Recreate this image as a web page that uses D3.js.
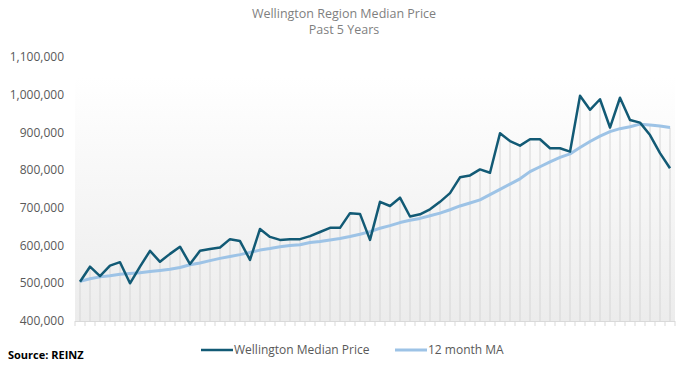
<!DOCTYPE html>
<html>
<head>
<meta charset="utf-8">
<script src="https://cdn.jsdelivr.net/npm/d3@7"></script>
<style>
  body { margin: 0; background: #fff; }
  svg { display: block; font-family: "Open Sans", "Noto Sans", sans-serif; }
</style>
</head>
<body>
<div id="chart"></div>
<script>
// Monthly median prices, Wellington region, past 5 years (60 months)
const medianPrice = [
  504000, 544000, 519000, 547000, 556000, 500000, 544000, 586000, 557000, 578000,
  597000, 551000, 586000, 591000, 595000, 617000, 612000, 562000, 644000, 623000,
  615000, 617000, 617000, 625000, 636000, 647000, 647000, 686000, 684000, 615000,
  716000, 705000, 727000, 677000, 683000, 696000, 716000, 739000, 781000, 786000,
  802000, 793000, 898000, 877000, 865000, 882000, 882000, 858000, 858000, 849000,
  997000, 960000, 988000, 913000, 992000, 933000, 926000, 893000, 845000, 805000
];

// 12 month moving average
const movingAvg = [
  505000, 512000, 517000, 520000, 524000, 526000, 528000, 531000, 534000, 537000,
  542000, 549000, 554000, 560000, 566000, 571000, 576000, 582000, 588000, 592000,
  597000, 600000, 602000, 608000, 611000, 615000, 619000, 624000, 630000, 637000,
  646000, 653000, 661000, 667000, 672000, 679000, 686000, 695000, 705000, 713000,
  721000, 735000, 749000, 763000, 777000, 796000, 809000, 822000, 834000, 843000,
  860000, 876000, 890000, 902000, 910000, 915000, 922000, 920000, 917000, 913000
];

const months = medianPrice.map((d, i) => i);
const yTicks = [400000, 500000, 600000, 700000, 800000, 900000, 1000000, 1100000];

const width = 689, height = 368;
const plot = { left: 75, right: 675, top: 57, bottom: 321 };

const svg = d3.select("#chart").append("svg")
    .attr("width", width)
    .attr("height", height);

const x = d3.scaleBand()
    .domain(months)
    .range([plot.left, plot.right]);

const y = d3.scaleLinear()
    .domain([400000, 1100000])
    .range([plot.bottom, plot.top]);

const cx = i => x(i) + x.bandwidth() / 2;

// plot area background gradient
const defs = svg.append("defs");
const grad = defs.append("linearGradient")
    .attr("id", "bg")
    .attr("x1", 0).attr("y1", 0).attr("x2", 0).attr("y2", 1);
grad.append("stop").attr("offset", "0%").attr("stop-color", "#ffffff");
grad.append("stop").attr("offset", "100%").attr("stop-color", "#ececec");

svg.append("rect")
    .attr("x", plot.left)
    .attr("y", plot.top + 20)
    .attr("width", plot.right - plot.left)
    .attr("height", plot.bottom - plot.top - 20)
    .attr("fill", "url(#bg)");

// drop lines from the higher series down to the axis
svg.append("g")
    .selectAll("line")
    .data(months)
    .enter().append("line")
    .attr("x1", d => cx(d))
    .attr("x2", d => cx(d))
    .attr("y1", d => y(Math.max(medianPrice[d], movingAvg[d])))
    .attr("y2", plot.bottom)
    .style("stroke", "#d6d6d6")
    .style("stroke-width", 1);

// x axis line and ticks at category boundaries
svg.append("line")
    .attr("x1", plot.left).attr("x2", plot.right)
    .attr("y1", plot.bottom + 0.5).attr("y2", plot.bottom + 0.5)
    .style("stroke", "#d9d9d9");

svg.append("g")
    .selectAll("line")
    .data(months.concat([months.length]))
    .enter().append("line")
    .attr("x1", d => d < months.length ? x(d) : plot.right)
    .attr("x2", d => d < months.length ? x(d) : plot.right)
    .attr("y1", plot.bottom)
    .attr("y2", plot.bottom + 5)
    .style("stroke", "#d9d9d9");

// y axis labels
svg.append("g")
    .selectAll("text")
    .data(yTicks)
    .enter().append("text")
    .attr("x", 64)
    .attr("y", d => y(d))
    .attr("dy", "0.35em")
    .attr("text-anchor", "end")
    .style("font-size", "12px")
    .style("fill", "#595959")
    .text(d => d3.format(",")(d));

// lines
const line = d3.line()
    .x((d, i) => cx(i))
    .y(d => y(d));

svg.append("path")
    .datum(movingAvg)
    .attr("d", line)
    .style("fill", "none")
    .style("stroke", "#9dc3e6")
    .style("stroke-width", 3)
    .style("stroke-linejoin", "round");

svg.append("path")
    .datum(medianPrice)
    .attr("d", line)
    .style("fill", "none")
    .style("stroke", "#125a75")
    .style("stroke-width", 2.5)
    .style("stroke-linejoin", "round");

// title
svg.append("text")
    .attr("x", 344).attr("y", 18)
    .attr("text-anchor", "middle")
    .style("font-size", "12.5px")
    .style("fill", "#7f7f7f")
    .text("Wellington Region Median Price");

svg.append("text")
    .attr("x", 344).attr("y", 34)
    .attr("text-anchor", "middle")
    .style("font-size", "12.5px")
    .style("fill", "#7f7f7f")
    .text("Past 5 Years");

// legend
const legend = [
    { name: "Wellington Median Price", color: "#125a75", x: 201, w: 2.5 },
    { name: "12 month MA", color: "#9dc3e6", x: 395, w: 3 }
];

const lg = svg.append("g").selectAll("g")
    .data(legend)
    .enter().append("g");

lg.append("line")
    .attr("x1", d => d.x).attr("x2", d => d.x + 32)
    .attr("y1", 350).attr("y2", 350)
    .style("stroke", d => d.color)
    .style("stroke-width", d => d.w);

lg.append("text")
    .attr("x", d => d.x + 33)
    .attr("y", 350)
    .attr("dy", "0.35em")
    .style("font-size", "12px")
    .style("fill", "#595959")
    .text(d => d.name);

// source
svg.append("text")
    .attr("x", 8).attr("y", 355)
    .attr("dy", "0.35em")
    .style("font-size", "11px")
    .style("font-weight", "bold")
    .style("fill", "#000")
    .text("Source: REINZ");
</script>
</body>
</html>
